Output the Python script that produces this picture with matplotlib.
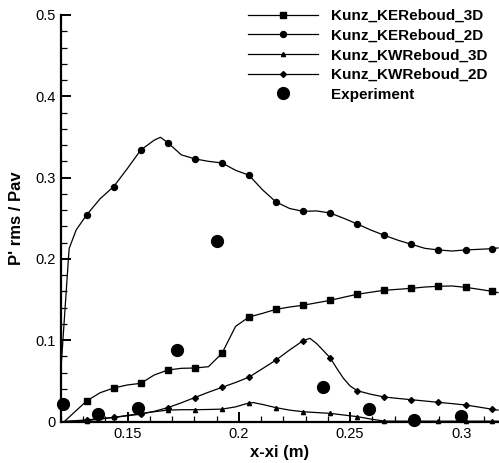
import numpy as np
import matplotlib
matplotlib.use("Agg")
import matplotlib.pyplot as plt
from matplotlib.ticker import MultipleLocator, FuncFormatter

# marker positions (same x for all four simulation curves)
x_mk = [0.1315, 0.1437, 0.1559, 0.1680, 0.1802, 0.1924, 0.2045, 0.2167,
        0.2289, 0.2410, 0.2532, 0.2654, 0.2775, 0.2897, 0.3019, 0.3140]

# Kunz_KEReboud_3D (squares)
ke3d_x = [0.1215, 0.1315, 0.1376, 0.1437, 0.1498, 0.1559, 0.1619, 0.1680, 0.1741,
          0.1802, 0.1863, 0.1924, 0.1985, 0.2045, 0.2106, 0.2167, 0.2228, 0.2289,
          0.2349, 0.2410, 0.2471, 0.2532, 0.2593, 0.2654, 0.2715, 0.2775, 0.2836,
          0.2897, 0.2958, 0.3019, 0.3080, 0.3140, 0.3165]
ke3d_y = [0.000, 0.0252, 0.0354, 0.0412, 0.0449, 0.047, 0.0572, 0.0633, 0.0654,
          0.0658, 0.0674, 0.0839, 0.117, 0.1285, 0.133, 0.138, 0.1408, 0.143,
          0.146, 0.149, 0.1528, 0.1565, 0.159, 0.1614, 0.1626, 0.1638, 0.1654,
          0.1663, 0.1667, 0.165, 0.1626, 0.160, 0.1585]

# Kunz_KEReboud_2D (circles)
ke2d_x = [0.1200, 0.1234, 0.1237, 0.1268, 0.1315, 0.1376, 0.1437, 0.1498, 0.1559,
          0.1619, 0.1647, 0.1680, 0.1741, 0.1802, 0.1863, 0.1924, 0.1985, 0.2045,
          0.2106, 0.2167, 0.2228, 0.2289, 0.2349, 0.2410, 0.2471, 0.2532, 0.2593,
          0.2654, 0.2715, 0.2775, 0.2836, 0.2897, 0.2958, 0.3019, 0.3080, 0.3140,
          0.3165]
ke2d_y = [0.065, 0.203, 0.213, 0.2355, 0.254, 0.274, 0.289, 0.311, 0.334,
          0.346, 0.3496, 0.343, 0.328, 0.323, 0.320, 0.318, 0.309, 0.303,
          0.285, 0.270, 0.262, 0.2585, 0.259, 0.2565, 0.250, 0.243, 0.2355,
          0.229, 0.223, 0.218, 0.213, 0.211, 0.2097, 0.211, 0.2118, 0.2126,
          0.2135]

# Kunz_KWReboud_3D (triangles)
kw3d_x = [0.1215, 0.1315, 0.1376, 0.1437, 0.1498, 0.1559, 0.1619, 0.1680, 0.1741,
          0.1802, 0.1863, 0.1924, 0.1985, 0.2045, 0.2065, 0.2106, 0.2167, 0.2228,
          0.2289, 0.2349, 0.2410, 0.2471, 0.2532, 0.2593, 0.2654, 0.2715, 0.2775,
          0.2836, 0.2897, 0.2958, 0.3019, 0.3080, 0.3140, 0.3165]
kw3d_y = [0.000, 0.001, 0.003, 0.005, 0.0075, 0.010, 0.012, 0.014, 0.0145,
          0.0145, 0.0148, 0.0152, 0.018, 0.0228, 0.0232, 0.021, 0.017, 0.014,
          0.012, 0.011, 0.010, 0.008, 0.006, 0.003, 0.0005, 0.0004, 0.0004,
          0.0004, 0.0004, 0.0004, 0.0004, 0.0004, 0.0004, 0.0004]

# Kunz_KWReboud_2D (diamonds)
kw2d_x = [0.1215, 0.1315, 0.1376, 0.1437, 0.1498, 0.1559, 0.1619, 0.1680, 0.1741,
          0.1802, 0.1863, 0.1924, 0.1985, 0.2045, 0.2106, 0.2167, 0.2228, 0.2289,
          0.2319, 0.2349, 0.2410, 0.2440, 0.2470, 0.2500, 0.2532, 0.2593, 0.2654,
          0.2715, 0.2775, 0.2836, 0.2897, 0.2958, 0.3019, 0.3080, 0.3140, 0.3165]
kw2d_y = [0.000, 0.002, 0.0035, 0.005, 0.007, 0.009, 0.0125, 0.017, 0.023,
          0.0295, 0.036, 0.042, 0.048, 0.0545, 0.065, 0.0756, 0.088, 0.0994,
          0.1023, 0.096, 0.0785, 0.0654, 0.0531, 0.0437, 0.0379, 0.0335, 0.0301,
          0.0284, 0.0268, 0.0252, 0.0236, 0.022, 0.0203, 0.0177, 0.015, 0.014]

# Experiment
exp_x = [0.1207, 0.1368, 0.1545, 0.1723, 0.1903, 0.2378, 0.2586, 0.2787, 0.2997]
exp_y = [0.0215, 0.0088, 0.017, 0.0876, 0.2216, 0.0428, 0.0154, 0.0018, 0.0068]


def mk_index(xs):
    return [i for i, x in enumerate(xs) if np.any(np.isclose(x, x_mk, atol=1e-5))]


plt.rcParams["font.family"] = ["Liberation Sans", "DejaVu Sans"]

fig = plt.figure(figsize=(4.99, 4.63), dpi=100)
ax = fig.add_axes([61 / 499, 1 - 421.5 / 463, 437 / 499, 406.5 / 463])

lw = 0.9
ax.plot(ke3d_x, ke3d_y, c="black", lw=lw, marker="s", ms=4, markevery=mk_index(ke3d_x),
        label="Kunz_KEReboud_3D", clip_on=False)
ax.plot(ke2d_x, ke2d_y, c="black", lw=lw, marker="o", ms=4.3, markevery=mk_index(ke2d_x),
        label="Kunz_KEReboud_2D", clip_on=False)
ax.plot(kw3d_x, kw3d_y, c="black", lw=lw, marker="^", ms=3, markevery=mk_index(kw3d_x),
        label="Kunz_KWReboud_3D", clip_on=False)
ax.plot(kw2d_x, kw2d_y, c="black", lw=lw, marker="D", ms=3, markevery=mk_index(kw2d_x),
        label="Kunz_KWReboud_2D", clip_on=False)
ax.plot(exp_x, exp_y, ls="none", marker="o", ms=8.5, c="black", label="Experiment",
        clip_on=False, zorder=5)

ax.set_xlim(0.12, 0.3165)
ax.set_ylim(0, 0.5)

ax.spines["top"].set_visible(False)
ax.spines["right"].set_visible(False)
ax.spines["left"].set_linewidth(1.6)
ax.spines["bottom"].set_linewidth(1.6)

ax.xaxis.set_major_locator(MultipleLocator(0.05))
ax.xaxis.set_minor_locator(MultipleLocator(0.01))
ax.yaxis.set_major_locator(MultipleLocator(0.1))
ax.yaxis.set_minor_locator(MultipleLocator(0.02))
fmt = FuncFormatter(lambda v, p: "%g" % round(v, 4))
ax.xaxis.set_major_formatter(fmt)
ax.yaxis.set_major_formatter(fmt)
ax.tick_params(which="major", direction="in", length=7.5, width=1.4, labelsize=10.5, pad=4)
ax.tick_params(which="minor", direction="in", length=4.5, width=0.9)

ax.set_xlabel("x-xi (m)", fontsize=12, fontweight="bold", labelpad=3)
ax.set_ylabel("P' rms / Pav", fontsize=12, fontweight="bold", labelpad=8)

ax.legend(loc="upper left", bbox_to_anchor=(248 / 499, 1 - 9 / 463),
          bbox_transform=fig.transFigure, frameon=False,
          prop=dict(weight="bold", size=11), handlelength=4.6,
          handletextpad=0.85, labelspacing=0.37, borderpad=0, borderaxespad=0,
          numpoints=1)

fig.savefig("out.png", dpi=100)
